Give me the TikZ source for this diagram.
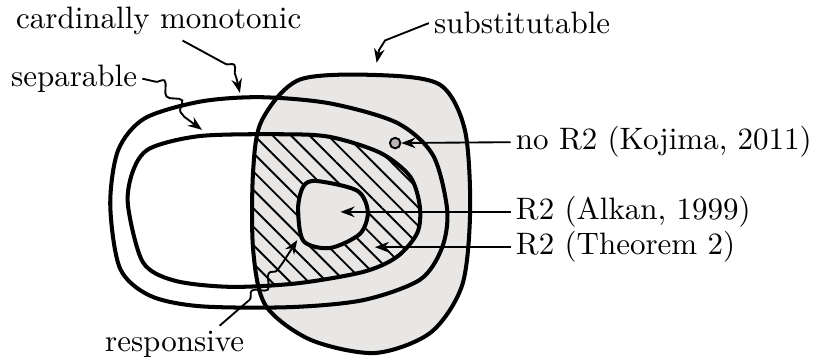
\documentclass[tikz,border=0pt]{standalone}
\usepackage{tikz}
\usetikzlibrary{arrows.meta,decorations.pathmorphing,patterns.meta}
\definecolor{RegionGray}{HTML}{E8E7E6}
\definecolor{DotGray}{HTML}{BCB4B5}

\newcommand{\substshape}{plot[smooth cycle] coordinates {(2.87,2.15) (2.97,2.72) (3.40,3.18) (4.31,3.23) (4.99,3.12) (5.27,2.61) (5.33,1.70) (5.24,0.85) (4.88,0.31) (4.25,0.08) (3.52,0.23) (3.01,0.62) (2.87,1.25)}}
\newcommand{\cardshape}{plot[smooth cycle] coordinates {(1.25,1.76) (1.34,2.38) (1.64,2.74) (2.27,2.93) (2.95,2.98) (3.74,2.91) (4.50,2.69) (4.91,2.32) (5.07,1.70) (5.01,1.27) (4.76,0.91) (4.12,0.68) (3.29,0.60) (2.27,0.61) (1.70,0.73) (1.36,1.04)}}
\newcommand{\sepshape}{plot[smooth cycle] coordinates {(1.45,1.76) (1.51,2.15) (1.70,2.40) (2.27,2.54) (3.18,2.56) (3.74,2.53) (4.31,2.35) (4.65,2.08) (4.76,1.74) (4.73,1.44) (4.50,1.17) (4.12,1.00) (3.37,0.87) (2.61,0.83) (1.98,0.90) (1.62,1.11)}}
\newcommand{\alkanshape}{plot[smooth cycle] coordinates {(3.59,2.03) (4.05,1.92) (4.17,1.68) (4.08,1.43) (3.74,1.27) (3.44,1.35) (3.38,1.72) (3.44,1.97)}}

\begin{document}
\begin{tikzpicture}[
  x=1cm, y=1cm,
  region/.style={line width=1.3pt, line join=round},
  arr/.style={-{Stealth[length=1.6mm, width=1.2mm]}, semithick},
  squiggle/.style={-{Stealth[length=1.6mm, width=1.2mm]}, semithick, decorate, decoration={snake, amplitude=0.6mm, segment length=2.8mm}},
  lbl/.style={inner sep=1.5pt}
]
\useasboundingbox (0,0) rectangle (9.274,4.082);
\fill[RegionGray] \substshape;
\begin{scope}
  \clip \substshape;
  \clip \sepshape;
  \fill[pattern={Lines[angle=-45, distance=4.2pt, line width=0.6pt]}] (2.5,0.5) rectangle (5.5,3);
\end{scope}
\draw[region] \cardshape;
\draw[region] \sepshape;
\draw[region] \substshape;
\draw[region, fill=RegionGray] \alkanshape;
\node[circle, draw, semithick, fill=DotGray, minimum size=3.4pt, inner sep=0pt] (dot) at (4.48,2.46) {};
\coordinate (alkantip) at (3.86,1.68);
\coordinate (thmtip) at (4.25,1.28);
\coordinate (cardtip) at (2.72,3.03);
\coordinate (septip) at (2.29,2.61);
\coordinate (subtip) at (4.27,3.37);
\coordinate (resptip) at (3.37,1.36);
\node[lbl] (card) at (1.80,3.84) {cardinally monotonic};
\node[lbl] (sep) at (0.84,3.19) {separable};
\node[lbl] (subst) at (5.92,3.82) {substitutable};
\node[lbl] (resp) at (1.98,0.18) {responsive};
\node[lbl, anchor=west] (koj) at (5.79,2.47) {no R2 (Kojima, 2011)};
\node[lbl, anchor=west] (alkan) at (5.79,1.68) {R2 (Alkan, 1999)};
\node[lbl, anchor=west] (thm) at (5.79,1.28) {R2 (Theorem 2)};
\draw[arr] (koj.west) -- (dot);
\draw[arr] (alkan.west) -- (alkantip);
\draw[arr] (thm.west) -- (thmtip);
\draw[squiggle, decoration={pre length=5.5mm, post length=1.5mm}] ([xshift=2.7mm]card.south) to[out=-25, in=95] (cardtip);
\draw[squiggle, decoration={pre length=1.5mm, post length=2.5mm}] (sep.east) to[out=0, in=160] (septip);
\draw[squiggle, decoration={pre length=5.5mm, post length=1.5mm}] (subst.west) to[out=180, in=90] (subtip);
\draw[squiggle, decoration={pre length=4.5mm, post length=3mm}] ([xshift=5.1mm]resp.north) to[out=40, in=-120] (resptip);
\end{tikzpicture}
\end{document}
